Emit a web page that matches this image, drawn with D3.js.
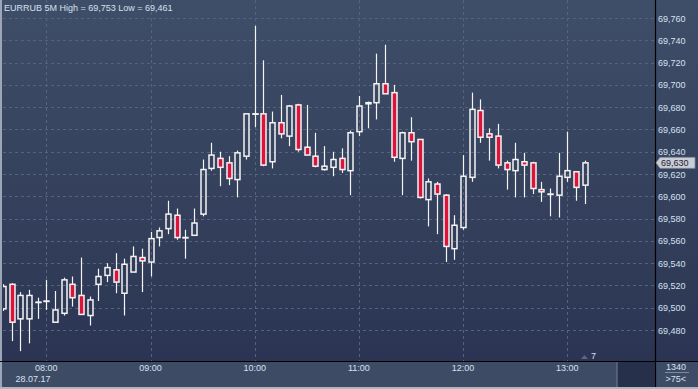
<!DOCTYPE html>
<html>
<head>
<meta charset="utf-8">
<script src="https://cdn.jsdelivr.net/npm/d3@7"></script>
<style>
  html, body { margin: 0; padding: 0; background: #3d4b64; }
  svg { display: block; font-family: "Liberation Sans", Arial, sans-serif; }
</style>
</head>
<body>
<div id="chart"></div>
<script>
// 5-minute bars, EURRUB 28.07.17
var times = ["07:35","07:40","07:45","07:50","07:55",
  "08:00","08:05","08:10","08:15","08:20","08:25","08:30","08:35","08:40","08:45","08:50","08:55",
  "09:00","09:05","09:10","09:15","09:20","09:25","09:30","09:35","09:40","09:45","09:50","09:55",
  "10:00","10:05","10:10","10:15","10:20","10:25","10:30","10:35","10:40","10:45","10:50","10:55",
  "11:00","11:05","11:10","11:15","11:20","11:25","11:30","11:35","11:40","11:45","11:50","11:55",
  "12:00","12:05","12:10","12:15","12:20","12:25","12:30","12:35","12:40","12:45","12:50","12:55",
  "13:00","13:05","13:10"];

var opens = [69.499,69.521,69.490,69.490,69.505,69.506,69.487,69.495,69.521,69.511,69.493,69.521,
  69.529,69.534,69.513,69.532,69.545,69.541,69.563,69.571,69.583,69.563,69.565,69.584,
  69.625,69.634,69.630,69.615,69.636,69.674,69.674,69.631,69.666,69.654,69.682,69.644,
  69.636,69.624,69.626,69.634,69.623,69.658,69.683,69.684,69.701,69.693,69.634,69.657,
  69.651,69.597,69.611,69.601,69.553,69.572,69.617,69.677,69.656,69.654,69.630,69.623,
  69.631,69.630,69.606,69.602,69.601,69.617,69.622,69.610];
var highs = [69.521,69.522,69.514,69.516,69.509,69.525,69.515,69.527,69.528,69.545,69.510,69.535,
  69.540,69.549,69.544,69.555,69.553,69.568,69.572,69.596,69.589,69.570,69.589,69.633,
  69.648,69.640,69.636,69.641,69.674,69.753,69.722,69.676,69.691,69.682,69.683,69.682,
  69.657,69.645,69.640,69.643,69.659,69.690,69.685,69.728,69.736,69.700,69.658,69.671,
  69.651,69.616,69.613,69.602,69.583,69.637,69.693,69.687,69.661,69.665,69.632,69.648,
  69.639,69.631,69.613,69.607,69.639,69.658,69.622,69.632];
var lows = [69.497,69.470,69.461,69.468,69.490,69.498,69.487,69.493,69.501,69.494,69.484,69.506,
  69.523,69.513,69.493,69.532,69.514,69.528,69.555,69.566,69.561,69.544,69.565,69.582,
  69.623,69.609,69.610,69.599,69.633,69.662,69.627,69.625,69.652,69.645,69.640,69.637,
  69.626,69.623,69.618,69.621,69.601,69.654,69.661,69.669,69.692,69.631,69.601,69.632,
  69.598,69.573,69.566,69.541,69.543,69.570,69.613,69.648,69.632,69.625,69.606,69.599,
  69.599,69.602,69.595,69.582,69.581,69.613,69.596,69.593];
var closes = [69.519,69.487,69.511,69.511,69.505,69.506,69.498,69.525,69.509,69.494,69.507,69.528,
  69.536,69.523,69.539,69.546,69.542,69.562,69.569,69.584,69.563,69.563,69.576,69.624,
  69.637,69.626,69.616,69.639,69.674,69.674,69.628,69.666,69.656,69.681,69.642,69.637,
  69.627,69.627,69.633,69.624,69.657,69.681,69.684,69.701,69.692,69.635,69.657,69.649,
  69.599,69.613,69.602,69.555,69.574,69.618,69.678,69.653,69.653,69.628,69.624,69.633,
  69.628,69.607,69.604,69.602,69.618,69.623,69.608,69.630];

var yTicks = [69.48,69.50,69.52,69.54,69.56,69.58,69.60,69.62,69.64,69.66,69.68,69.70,69.72,69.74,69.76];
var xTickLabels = ["08:00","09:00","10:00","11:00","12:00","13:00"];
var titleText = "EURRUB 5M High = 69,753 Low = 69,461";
var dateLabel = "28.07.17";
var lastPrice = 69.630;

var W = 698, H = 389;
var plot = { left: 3, right: 655, top: 0, bottom: 361 };

var parseT = d3.timeParse("%H:%M");
var bars = times.map(function(t, i) {
  return { t: parseT(t), o: opens[i], h: highs[i], l: lows[i], c: closes[i] };
});

var x = d3.scaleTime()
  .domain([parseT("08:00"), parseT("13:00")])
  .range([46.3, 567.3]);
var y = d3.scaleLinear()
  .domain([69.48, 69.76])
  .range([330, 18]);

var ru = d3.formatLocale({ decimal: ",", thousands: " ", grouping: [3], currency: ["", ""] });
var fmt = ru.format(".3f");

var svg = d3.select("#chart").append("svg")
  .attr("width", W).attr("height", H);

var defs = svg.append("defs");
var grad = defs.append("linearGradient").attr("id", "bg")
  .attr("x1", 0).attr("y1", 0).attr("x2", 0).attr("y2", 1);
grad.append("stop").attr("offset", "0%").attr("stop-color", "#3f4e68");
grad.append("stop").attr("offset", "100%").attr("stop-color", "#2b3553");
defs.append("clipPath").attr("id", "clip").append("rect")
  .attr("x", plot.left).attr("y", plot.top)
  .attr("width", plot.right - plot.left).attr("height", plot.bottom - plot.top);

// backgrounds
svg.append("rect").attr("x", 0).attr("y", 0).attr("width", W).attr("height", plot.bottom)
  .attr("fill", "url(#bg)");
svg.append("rect").attr("x", 0).attr("y", plot.bottom).attr("width", W).attr("height", 26)
  .attr("fill", "#3d4b64");
svg.append("rect").attr("x", 0).attr("y", 387).attr("width", W).attr("height", 2)
  .attr("fill", "#aeb6c2");
svg.append("rect").attr("x", 0).attr("y", 0).attr("width", 2).attr("height", 387)
  .attr("fill", "#9ca6b6");

// grid
var grid = svg.append("g").attr("stroke", "#56637d").attr("stroke-width", 1)
  .attr("stroke-dasharray", "3,3");
grid.selectAll("line.h").data(yTicks).enter().append("line")
  .attr("x1", plot.left).attr("x2", plot.right)
  .attr("y1", function(d) { return Math.round(y(d)) + 0.5; })
  .attr("y2", function(d) { return Math.round(y(d)) + 0.5; });
grid.selectAll("line.v").data(xTickLabels).enter().append("line")
  .attr("y1", plot.top).attr("y2", plot.bottom)
  .attr("x1", function(d) { return Math.round(x(parseT(d))) + 0.5; })
  .attr("x2", function(d) { return Math.round(x(parseT(d))) + 0.5; });

// candles
var g = svg.append("g").attr("clip-path", "url(#clip)");
var candle = g.selectAll("g.candle").data(bars).enter().append("g");
function cx(d) { return Math.round(x(d.t)) + 0.5; }
candle.append("line")
  .attr("x1", cx).attr("x2", cx)
  .attr("y1", function(d) { return y(d.h); })
  .attr("y2", function(d) { return y(Math.max(d.o, d.c)); })
  .attr("stroke", "#f4f4f4").attr("stroke-width", 1.2);
candle.append("line")
  .attr("x1", cx).attr("x2", cx)
  .attr("y1", function(d) { return y(Math.min(d.o, d.c)); })
  .attr("y2", function(d) { return y(d.l); })
  .attr("stroke", "#f4f4f4").attr("stroke-width", 1.2);
candle.append("rect")
  .attr("x", function(d) { return cx(d) - 2.5; })
  .attr("width", 5)
  .attr("y", function(d) { return y(Math.max(d.o, d.c)); })
  .attr("height", function(d) { return Math.max(0.4, Math.abs(y(d.o) - y(d.c))); })
  .attr("fill", function(d) { return d.c < d.o ? "#dc143c" : "none"; })
  .attr("stroke", "#f4f4f4").attr("stroke-width", 1.5);

// frame lines
svg.append("line").attr("x1", 0).attr("x2", W).attr("y1", plot.bottom + 0.5).attr("y2", plot.bottom + 0.5)
  .attr("stroke", "#000").attr("stroke-width", 1.2);
svg.append("line").attr("x1", plot.right + 0.5).attr("x2", plot.right + 0.5).attr("y1", 0).attr("y2", 387)
  .attr("stroke", "#000").attr("stroke-width", 1.2);

var textColor = "#d6e0f0";

// title
svg.append("text").attr("x", 4).attr("y", 11)
  .attr("font-size", "9px").attr("fill", textColor).text(titleText);

// right axis labels
svg.append("g").selectAll("text").data(yTicks).enter().append("text")
  .attr("x", 658).attr("y", function(d) { return y(d) + 3.5; })
  .attr("font-size", "9px").attr("fill", textColor)
  .text(function(d) { return fmt(d); });

// last price marker
var ly = y(lastPrice);
svg.append("path")
  .attr("d", "M656," + ly + " L660," + (ly - 5.5) + " L695," + (ly - 5.5) + " L695," + (ly + 5.5) + " L660," + (ly + 5.5) + " Z")
  .attr("fill", "#c9cdd5").attr("stroke", "#7e8898").attr("stroke-width", 0.8);
svg.append("text").attr("x", 661).attr("y", ly + 3.5)
  .attr("font-size", "9px").attr("fill", "#1c2232").text(fmt(lastPrice));

// bottom time axis
svg.append("g").selectAll("text").data(xTickLabels).enter().append("text")
  .attr("x", function(d) { return x(parseT(d)); }).attr("y", 371)
  .attr("text-anchor", "middle").attr("font-size", "9px").attr("fill", textColor)
  .text(function(d) { return d; });
svg.append("text").attr("x", 33).attr("y", 382).attr("text-anchor", "middle")
  .attr("font-size", "9px").attr("fill", textColor).text(dateLabel);

// scroll box and counters
svg.append("rect").attr("x", 617).attr("y", 362).attr("width", 38).attr("height", 25)
  .attr("fill", "#27304a");
svg.append("line").attr("x1", 617).attr("x2", 617).attr("y1", 362).attr("y2", 387)
  .attr("stroke", "#5e6a80").attr("stroke-width", 1.5);
svg.append("path").attr("d", "M581,359 L588,359 L584.5,355 Z").attr("fill", "#5b6781");
svg.append("text").attr("x", 591).attr("y", 359).attr("font-size", "9px")
  .attr("fill", textColor).text("7");

svg.append("text").attr("x", 686).attr("y", 369.5).attr("text-anchor", "end")
  .attr("font-size", "9px").attr("fill", textColor).text("1340");
svg.append("line").attr("x1", 665).attr("x2", 689).attr("y1", 372.5).attr("y2", 372.5)
  .attr("stroke", "#7d8aa0").attr("stroke-width", 1);
svg.append("text").attr("x", 686).attr("y", 382).attr("text-anchor", "end")
  .attr("font-size", "9px").attr("fill", textColor).text(">75<");
</script>
</body>
</html>
